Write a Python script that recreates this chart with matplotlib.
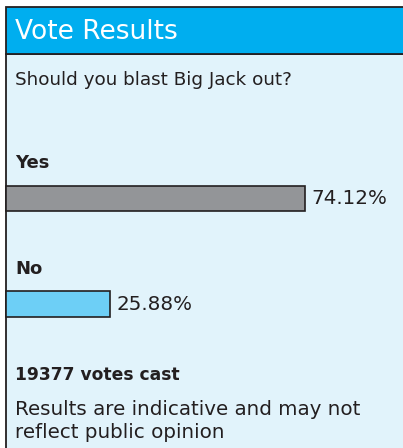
import matplotlib
matplotlib.use('Agg')
import matplotlib.pyplot as plt
from matplotlib.patches import Rectangle

# poll results
title = 'Vote Results'
question = 'Should you blast Big Jack out?'
options = ['Yes', 'No']
percents = [74.12, 25.88]
bar_colors = ['#939598', '#6dcff6']
votes = 19377
note = 'Results are indicative and may not\nreflect public opinion'

W, H = 403, 448
DPI = 100
ink = '#231f20'

fig = plt.figure(figsize=(W / DPI, H / DPI), dpi=DPI, facecolor='white')

# background panel, drawn in pixel units (y down)
bg = fig.add_axes([0, 0, 1, 1])
bg.set_xlim(0, W)
bg.set_ylim(H, 0)
bg.axis('off')
bg.add_patch(Rectangle((6, 54), 420, 420, facecolor='#e1f3fb', edgecolor=ink, lw=1.3))
bg.add_patch(Rectangle((6, 7.5), 420, 46.5, facecolor='#00aeef', edgecolor=ink, lw=1.3))

bg.text(15, 32, title, color='white', fontsize=19, va='center', ha='left')
bg.text(15, 80, question, color=ink, fontsize=13.2, va='center', ha='left')
bg.text(15, 375, f'{votes} votes cast', color=ink, fontsize=12.3, fontweight='bold',
        va='center', ha='left')
bg.text(15, 421, note, color=ink, fontsize=14.3, va='center', ha='left', linespacing=1.25)

# bar area: 0-100% spans 403 px starting at the panel edge
y_top, y_bot = 145.75, 356.75
ax = fig.add_axes([6 / W, 1 - y_bot / H, 403.4 / W, (y_bot - y_top) / H])
ax.set_xlim(0, 100)
ax.set_ylim(1.5, -0.5)
ax.axis('off')
ax.patch.set_alpha(0)

for i, (name, pct, c) in enumerate(zip(options, percents, bar_colors)):
    ax.barh(i, pct, height=0.237, color=c, edgecolor=ink, lw=1.2, clip_on=False)
    ax.text(pct + 1.6, i, f'{pct:.2f}%', color=ink, fontsize=14.3, va='center', ha='left')
    ax.text(9 / 4.034, i - 0.336, name, color=ink, fontsize=13, fontweight='bold',
            va='center', ha='left')

fig.savefig('out.png', dpi=DPI, facecolor='white')
